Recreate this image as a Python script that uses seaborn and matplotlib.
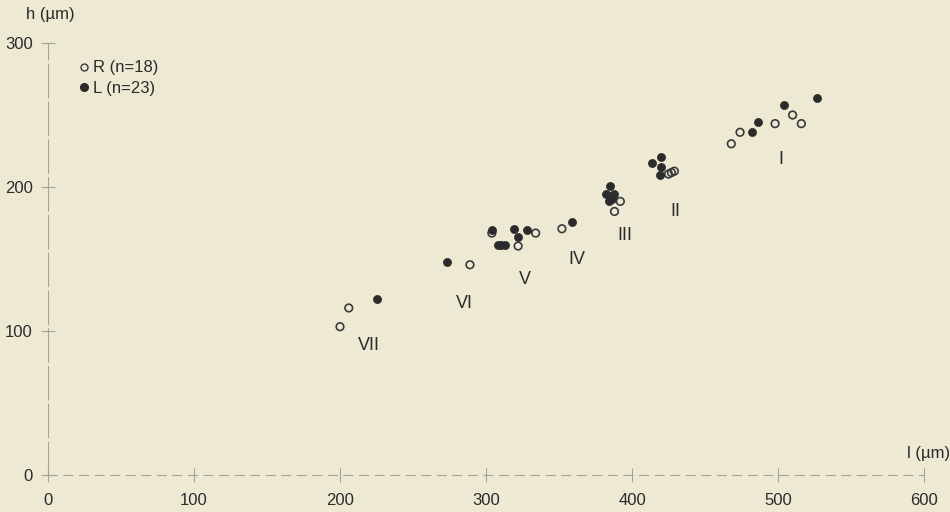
import matplotlib
matplotlib.use("Agg")
import matplotlib.pyplot as plt
from matplotlib.lines import Line2D
import seaborn as sns
import pandas as pd

# Right-side (open) measurements: length l and height h in µm
r_l = [200, 206, 289, 304, 322, 334, 352, 386, 392, 388, 425, 429, 427,
       468, 474, 498, 510, 516]
r_h = [103, 116, 146, 168, 159, 168, 171, 193, 190, 183, 209, 211, 210,
       230, 238, 244, 250, 244]

# Left-side (filled) measurements
l_l = [225, 273, 304, 319, 328, 322, 308, 313, 310, 359, 385, 382, 388,
       384, 386, 420, 414, 420, 419, 482, 486, 504, 527]
l_h = [122, 148, 170, 171, 170, 165, 160, 160, 160, 176, 201, 195, 195,
       190, 192, 221, 217, 214, 208, 238, 245, 257, 262]

# Group labels with their positions
group_names = ["VII", "VI", "V", "IV", "III", "II", "I"]
group_x = [220, 285, 327, 362, 395, 430, 502]
group_y = [90, 119, 136, 150, 166, 183, 219]

x_ticks = [0, 100, 200, 300, 400, 500, 600]
y_ticks = [0, 100, 200, 300]

df = pd.concat([
    pd.DataFrame({"l": r_l, "h": r_h, "side": "R"}),
    pd.DataFrame({"l": l_l, "h": l_h, "side": "L"}),
], ignore_index=True)

sns.set_theme(style="white")
plt.rcParams["font.family"] = ["Liberation Sans", "DejaVu Sans"]

bg = "#EEE9D3"
ink = "#2b2b2b"
axis_col = "#a3a29b"

fig = plt.figure(figsize=(9.5, 5.12), dpi=100, facecolor=bg)
ax = fig.add_axes([48 / 950, 37 / 512, 876 / 950, 432 / 512])
ax.set_facecolor(bg)

sns.scatterplot(data=df[df.side == "R"], x="l", y="h", ax=ax, marker="o",
                s=30, facecolor="none", edgecolor="#3a3a3a", linewidth=1.2,
                legend=False, zorder=3)
sns.scatterplot(data=df[df.side == "L"], x="l", y="h", ax=ax, marker="o",
                s=34, color=ink, edgecolor=ink, linewidth=0.5,
                legend=False, zorder=4)

for name, gx, gy in zip(group_names, group_x, group_y):
    ax.text(gx, gy, name, ha="center", va="center", fontsize=13, color=ink)

ax.set_xlim(0, 600)
ax.set_ylim(0, 300)
ax.set_xticks(x_ticks)
ax.set_yticks(y_ticks)
ax.set_xlabel("")
ax.set_ylabel("")
ax.tick_params(axis="both", which="major", bottom=True, left=True,
               direction="inout", length=10, width=0.8,
               color=axis_col, labelsize=12, labelcolor=ink, pad=6)
ax.tick_params(axis="x", pad=8)

for side in ("top", "right"):
    ax.spines[side].set_visible(False)
for side in ("left", "bottom"):
    ax.spines[side].set_color(axis_col)
    ax.spines[side].set_linewidth(0.8)
ax.spines["bottom"].set_linestyle((0, (8, 6)))
ax.spines["left"].set_linestyle((0, (30, 4)))

ax.text(-0.025, 1.065, "h (µm)", transform=ax.transAxes, fontsize=12,
        color=ink, ha="left", va="center")
ax.text(1.03, 0.05, "l (µm)", transform=ax.transAxes, fontsize=12,
        color=ink, ha="right", va="center")

handles = [
    Line2D([], [], marker="o", linestyle="none", markersize=5,
           markerfacecolor="none", markeredgecolor="#3a3a3a",
           markeredgewidth=1.0, label="R (n=18)"),
    Line2D([], [], marker="o", linestyle="none", markersize=5.5,
           markerfacecolor=ink, markeredgecolor=ink, label="L (n=23)"),
]
leg = ax.legend(handles=handles, loc="upper left", bbox_to_anchor=(0.024, 0.975),
                frameon=False, fontsize=12, handletextpad=0.05,
                handlelength=1.0, labelspacing=0.35, borderaxespad=0)
for t in leg.get_texts():
    t.set_color(ink)

fig.savefig("out.png", dpi=100, facecolor=bg)
